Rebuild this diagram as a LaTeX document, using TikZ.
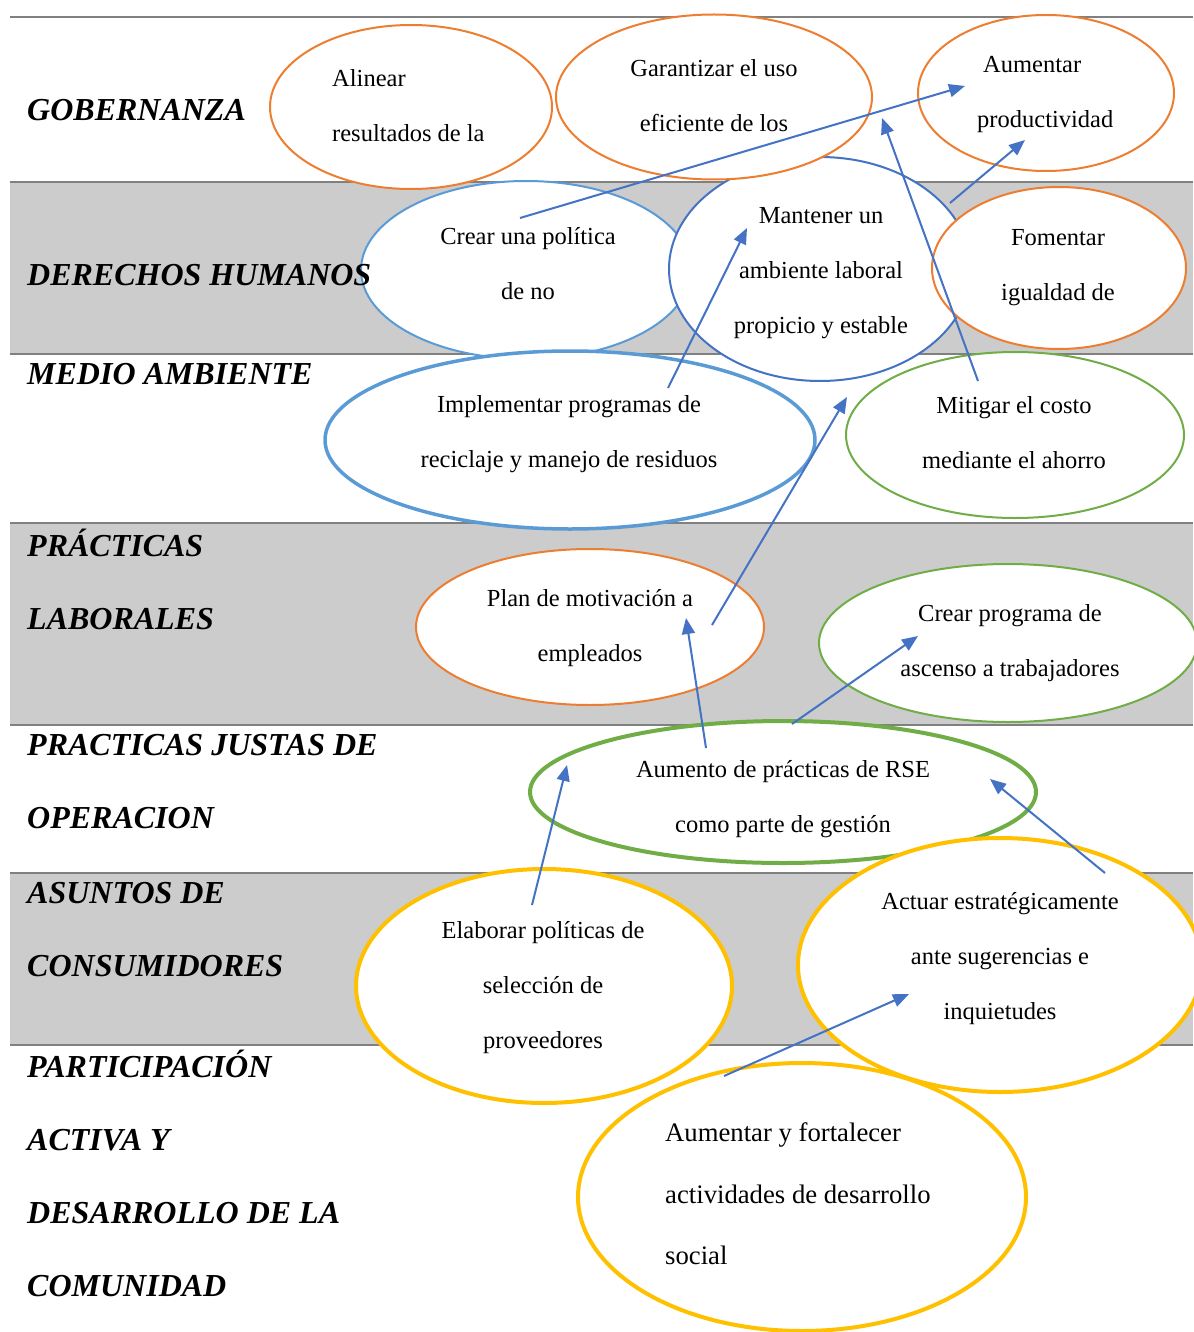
\documentclass[tikz,border=0pt]{standalone}
\usepackage{fontspec}
\setmainfont{Liberation Serif}
\usetikzlibrary{shapes.geometric,arrows.meta}
\definecolor{corange}{HTML}{ED7D31}
\definecolor{clblue}{HTML}{5B9BD5}
\definecolor{cblue}{HTML}{4472C4}
\definecolor{cgreen}{HTML}{70AD47}
\definecolor{cyellow}{HTML}{FFC000}
\definecolor{cband}{HTML}{CCCCCC}
\definecolor{cline}{HTML}{808080}
\begin{document}
\begin{tikzpicture}[x=1pt,y=-1pt,
  oval/.style={ellipse,draw,fill=white,inner sep=0pt},
  txt/.style={inner sep=0pt,align=center,font=\fontsize{24.5}{55}\selectfont},
  lbl/.style={anchor=west,inner sep=0pt,align=left,font=\fontsize{32}{73}\selectfont\bfseries\itshape},
  sep/.style={draw=cline,line width=1.5pt},
  arr/.style={draw=cblue,line width=2pt,-{Triangle[length=16pt,width=13pt]}}]
\useasboundingbox (0,0) rectangle (1193,1332);
% bands
\fill[cband] (10,182) rectangle (1193,354);
\fill[cband] (10,523) rectangle (1193,725);
\fill[cband] (10,873) rectangle (1193,1045);
\foreach \yy in {17,182,354,523,725,873,1045} \draw[sep] (10,\yy) -- (1193,\yy);
% ellipses
\node[oval,draw=clblue,line width=2pt,minimum width=330pt,minimum height=178pt] (crear) at (526,270) {};
\node[oval,draw=cgreen,line width=2pt,minimum width=338pt,minimum height=166pt] (mitigar) at (1015,435) {};
\node[oval,draw=cblue,line width=2pt,minimum width=302pt,minimum height=224pt] (mantener) at (820,269) {};
\node[oval,draw=corange,line width=2pt,minimum width=254pt,minimum height=162pt] (fomentar) at (1059,268) {};
\node[oval,draw=corange,line width=2pt,minimum width=282pt,minimum height=164pt] (alinear) at (411,107) {};
\node[oval,draw=corange,line width=2pt,minimum width=316pt,minimum height=165pt] (garantizar) at (714,97) {};
\node[oval,draw=corange,line width=2pt,minimum width=256pt,minimum height=156pt] (aumentarp) at (1046,93) {};
\node[oval,draw=clblue,line width=3.5pt,minimum width=490pt,minimum height=178pt] (implementar) at (570,440) {};
\node[oval,draw=corange,line width=2pt,minimum width=348pt,minimum height=156pt] (plan) at (590,627) {};
\node[oval,draw=cgreen,line width=2pt,minimum width=378pt,minimum height=158pt] (crearprog) at (1008,643) {};
\node[oval,draw=cgreen,line width=4pt,minimum width=506pt,minimum height=142pt] (aumento) at (783,792) {};
\node[oval,draw=cyellow,line width=4pt,minimum width=376pt,minimum height=234pt] (elaborar) at (544,986) {};
\node[oval,draw=cyellow,line width=4pt,minimum width=448pt,minimum height=268pt] (aumentary) at (802,1197) {};
\node[oval,draw=cyellow,line width=4pt,minimum width=404pt,minimum height=254pt] (actuar) at (1000,965) {};
% texts
\node[txt,align=left,anchor=west] (alinearT) at (332,105.5) {Alinear\\resultados de la};
\node[txt] (garantizarT) at (714,95.5) {Garantizar el uso\\eficiente de los};
\node[txt,align=left,anchor=west] (aumentarpT) at (977,94.5) {\hspace*{6pt}Aumentar\\productividad};
\node[txt] (crearT) at (528,264) {Crear una política\\de no};
\node[txt] (mantenerT) at (821,273) {Mantener un\\ambiente laboral\\propicio y estable};
\node[txt] (fomentarT) at (1058,267.5) {Fomentar\\igualdad de};
\node[txt] (implementarT) at (569,434) {Implementar programas de\\reciclaje y manejo de residuos};
\node[txt] (mitigarT) at (1014,433) {Mitigar el costo\\mediante el ahorro};
\node[txt] (planT) at (590,628) {Plan de motivación a\\empleados};
\node[txt] (crearprogT) at (1010,643.5) {Crear programa de\\ascenso a trabajadores};
\node[txt] (aumentoT) at (783,799) {Aumento de prácticas de RSE\\como parte de gestión};
\node[txt] (elaborarT) at (543,988) {Elaborar políticas de\\selección de\\proveedores};
\node[txt] (actuarT) at (1000,959) {Actuar estratégicamente\\ante sugerencias e\\inquietudes};
\node[txt,align=left,anchor=west,font=\fontsize{26.7}{61.5}\selectfont] (aumentaryT) at (665,1194) {Aumentar y fortalecer\\actividades de desarrollo\\social};
% row labels
\node[lbl] (gob) at (27,110) {GOBERNANZA};
\node[lbl] (dh) at (27,275) {DERECHOS HUMANOS};
\node[lbl] (ma) at (27,374) {MEDIO AMBIENTE};
\node[lbl] (pl) at (27,579.5) {PRÁCTICAS\\LABORALES};
\node[lbl] (pj) at (27,781.5) {PRACTICAS JUSTAS DE\\OPERACION};
\node[lbl] (ac) at (27,929.5) {ASUNTOS DE\\CONSUMIDORES};
\node[lbl] (pa) at (27,1173) {PARTICIPACIÓN\\ACTIVA Y\\DESARROLLO DE LA\\COMUNIDAD};
% arrow end points
\coordinate (a1s) at (520,218); \coordinate (a1e) at (965,86);
\coordinate (a2s) at (950,203); \coordinate (a2e) at (1025,140);
\coordinate (a3s) at (978,381); \coordinate (a3e) at (882,118);
\coordinate (a4s) at (668,388); \coordinate (a4e) at (747,228);
\coordinate (a5s) at (712,625); \coordinate (a5e) at (847,397);
\coordinate (a6s) at (706,748); \coordinate (a6e) at (686,618);
\coordinate (a7s) at (792,724); \coordinate (a7e) at (918,636);
\coordinate (a8s) at (532,905); \coordinate (a8e) at (567,765);
\coordinate (a9s) at (1105,873); \coordinate (a9e) at (990,779);
\coordinate (a10s) at (724,1076); \coordinate (a10e) at (909,994);
\foreach \i in {1,...,10} \draw[arr] (a\i s) -- (a\i e);
\end{tikzpicture}
\end{document}
